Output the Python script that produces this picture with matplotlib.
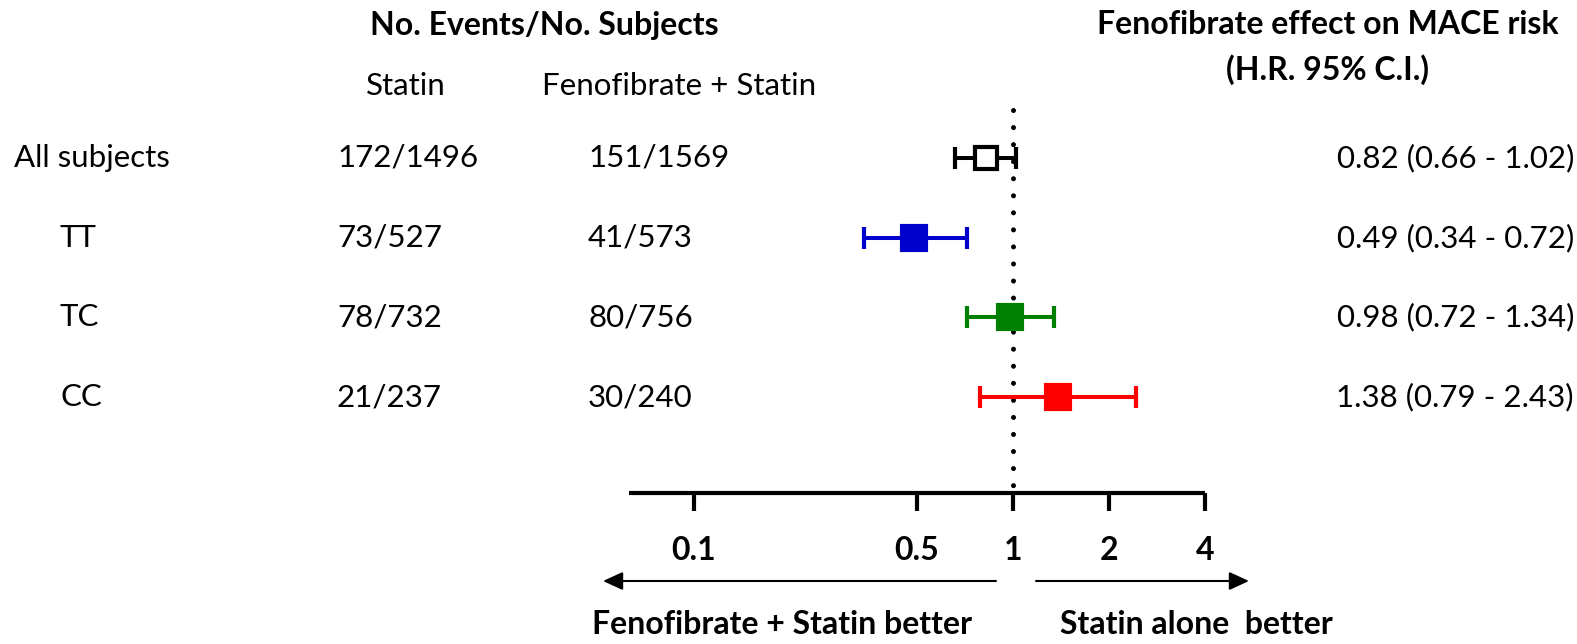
import matplotlib
matplotlib.use('Agg')
import matplotlib.pyplot as plt
from matplotlib.transforms import blended_transform_factory

plt.rcParams['font.family'] = ['Lato', 'DejaVu Sans']

# data
groups = ['All subjects', 'TT', 'TC', 'CC']
statin_counts = ['172/1496', '73/527', '78/732', '21/237']
combo_counts = ['151/1569', '41/573', '80/756', '30/240']
hr = [0.82, 0.49, 0.98, 1.38]
ci_low = [0.66, 0.34, 0.72, 0.79]
ci_high = [1.02, 0.72, 1.34, 2.43]
colors = ['black', '#0000CC', '#008000', '#FF0000']
tick_vals = [0.1, 0.5, 1, 2, 4]
tick_labels = ['0.1', '0.5', '1', '2', '4']

W, H = 1577, 644
fig = plt.figure(figsize=(W / 100, H / 100), dpi=100)
ax = fig.add_axes([0, 0, 1, 1])
ax.set_xscale('log')
# 1 sits at px 1013, ~319 px per decade
ax.set_xlim(10 ** (-1013 / 319), 10 ** ((W - 1013) / 319))
row0, step = 158, 79.7
ax.set_ylim((H - row0) / step, -row0 / step)
ax.axis('off')

def fy(p):
    return 1 - p / H

def fx(p):
    return p / W

def ydata(p):
    return (p - row0) / step

rows = blended_transform_factory(ax.transAxes, ax.transData)
fs = 22.5   # regular text
fb = 23     # bold text

# headers
ax.text(fx(544), fy(25), 'No. Events/No. Subjects', transform=ax.transAxes,
        ha='center', va='center', fontsize=fb, fontweight='bold')
ax.text(fx(406), fy(86), 'Statin', transform=ax.transAxes,
        ha='center', va='center', fontsize=fs)
ax.text(fx(679), fy(86), 'Fenofibrate + Statin', transform=ax.transAxes,
        ha='center', va='center', fontsize=fs)
ax.text(fx(1328), fy(25), 'Fenofibrate effect on MACE risk', transform=ax.transAxes,
        ha='center', va='center', fontsize=fb, fontweight='bold')
ax.text(fx(1328), fy(70), '(H.R. 95% C.I.)', transform=ax.transAxes,
        ha='center', va='center', fontsize=fb, fontweight='bold')

# reference line at HR = 1
ax.plot([1, 1], [ydata(110), ydata(490)], color='black', lw=3.6,
        linestyle=(0, (0.01, 3.4)), dash_capstyle='round', zorder=1)

for i, g in enumerate(groups):
    ax.text(fx(14) if i == 0 else fx(60), i, g, transform=rows,
            ha='left', va='center', fontsize=fs)
    ax.text(fx(337), i, statin_counts[i], transform=rows,
            ha='left', va='center', fontsize=fs)
    ax.text(fx(588), i, combo_counts[i], transform=rows,
            ha='left', va='center', fontsize=fs)
    ax.text(fx(1574), i, f'{hr[i]:.2f} ({ci_low[i]:.2f} - {ci_high[i]:.2f})',
            transform=rows, ha='right', va='center', fontsize=fs)
    face = 'white' if i == 0 else colors[i]
    ax.errorbar([hr[i]], [i], xerr=[[hr[i] - ci_low[i]], [ci_high[i] - hr[i]]],
                fmt='s', color=colors[i], mfc=face, mec=colors[i], mew=3,
                ms=16 if i == 0 else 17, capsize=8, elinewidth=2.9,
                capthick=2.9, zorder=3)

# x axis
y_axis = ydata(493)
ax.plot([ax.get_xlim()[0] * 10 ** (629 / 319), tick_vals[-1]], [y_axis, y_axis],
        color='black', lw=3, solid_capstyle='butt')
for v, lab in zip(tick_vals, tick_labels):
    ax.plot([v, v], [y_axis, ydata(511)], color='black', lw=3, solid_capstyle='butt')
    ax.text(v, ydata(551), lab, ha='center', va='center', fontsize=fb,
            fontweight='bold')

# direction arrows
arrow = dict(arrowstyle='-|>,head_length=1.2,head_width=0.55', color='black',
             lw=1.5, shrinkA=0, shrinkB=0)
ax.annotate('', xy=(fx(603), fy(581)), xytext=(fx(996), fy(581)),
            xycoords='axes fraction', textcoords='axes fraction', arrowprops=arrow)
ax.annotate('', xy=(fx(1249), fy(581)), xytext=(fx(1036), fy(581)),
            xycoords='axes fraction', textcoords='axes fraction', arrowprops=arrow)
ax.text(fx(782), fy(625), 'Fenofibrate + Statin better', transform=ax.transAxes,
        ha='center', va='center', fontsize=fb, fontweight='bold')
ax.text(fx(1196), fy(625), 'Statin alone  better', transform=ax.transAxes,
        ha='center', va='center', fontsize=fb, fontweight='bold')

fig.savefig('out.png', dpi=100)
